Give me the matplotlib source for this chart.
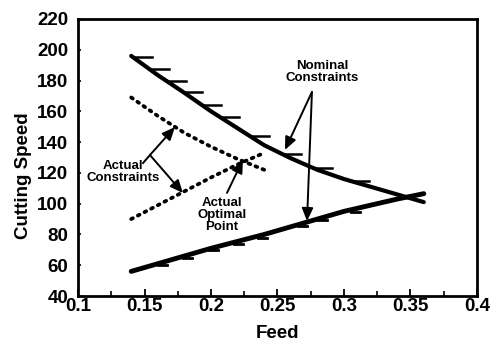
import numpy as np
import matplotlib
matplotlib.use('Agg')
from matplotlib import pyplot as plt

plt.rcParams['font.family'] = ['Liberation Sans', 'DejaVu Sans']
plt.rcParams['font.weight'] = 'bold'

# nominal constraints
nom_up_feed = [0.14, 0.16, 0.18, 0.20, 0.22, 0.24, 0.26, 0.28, 0.30, 0.32, 0.34, 0.36]
nom_up_speed = [196, 183.5, 172, 160, 149, 138, 129.5, 122, 116, 111, 106, 101]
nom_lo_feed = [0.14, 0.16, 0.18, 0.20, 0.22, 0.24, 0.26, 0.28, 0.30, 0.32, 0.34, 0.36]
nom_lo_speed = [56, 61, 66, 71, 75.5, 80, 85, 90, 95, 99, 103, 106.5]

# actual constraints (dotted)
act_up_feed = [0.14, 0.16, 0.18, 0.20, 0.22, 0.24]
act_up_speed = [169, 157, 146, 137, 129, 122]
act_lo_feed = [0.14, 0.16, 0.18, 0.20, 0.22, 0.24]
act_lo_speed = [90, 99, 108, 117, 125.5, 133]

# hatch positions along the nominal curves
up_hatch = [0.1414, 0.1541, 0.1669, 0.1789, 0.1932, 0.2068, 0.2293, 0.2534, 0.2767, 0.3045]
lo_hatch = [0.1669, 0.1857, 0.2053, 0.2241, 0.2421, 0.2722, 0.2872, 0.3120]

fig = plt.figure(figsize=(4.95, 3.44), dpi=100)
ax = fig.add_axes([0.1576, 0.1395, 0.806, 0.8053])

ax.plot(nom_up_feed, nom_up_speed, color='k', lw=3, solid_capstyle='round')
ax.plot(nom_lo_feed, nom_lo_speed, color='k', lw=3.5, solid_capstyle='round')
ax.plot(act_up_feed, act_up_speed, color='k', lw=2.7, linestyle=(0, (0.5, 1.5)),
        dash_capstyle='round')
ax.plot(act_lo_feed, act_lo_speed, color='k', lw=2.7, linestyle=(0, (0.5, 1.5)),
        dash_capstyle='round')

for f in up_hatch:
    s = np.interp(f, nom_up_feed, nom_up_speed)
    ax.plot([f, f + 0.014], [s, s], color='k', lw=1.8)
for f in lo_hatch:
    s = np.interp(f, nom_lo_feed, nom_lo_speed) - 2.6
    ax.plot([f - 0.007, f], [s, s], color='k', lw=2)

aprops = dict(arrowstyle='-|>,head_length=0.55,head_width=0.24', lw=1.4, color='k',
              mutation_scale=14, shrinkA=0, shrinkB=0)

# Nominal constraints
ax.text(0.2835, 185.6, 'Nominal\nConstraints', ha='center', va='center',
        fontsize=9.5, fontweight='bold', linespacing=1.0)
ax.annotate('', xy=(0.2556, 134.9), xytext=(0.2759, 172.6), arrowprops=aprops)
ax.annotate('', xy=(0.2722, 88.7), xytext=(0.2759, 172.6), arrowprops=aprops)

# Actual constraints
ax.text(0.1338, 120.6, 'Actual\nConstraints', ha='center', va='center',
        fontsize=9.5, fontweight='bold', linespacing=1.0)
ax.plot([0.1489, 0.1541], [126.4, 131.6], color='k', lw=1.4)
ax.annotate('', xy=(0.1729, 149.8), xytext=(0.1541, 131.6), arrowprops=aprops)
ax.annotate('', xy=(0.1789, 106.9), xytext=(0.1541, 131.6), arrowprops=aprops)

# Actual optimal point
ax.text(0.2083, 92.6, 'Actual\nOptimal\nPoint', ha='center', va='center',
        fontsize=9.5, fontweight='bold', linespacing=1.0)
ax.annotate('', xy=(0.224, 128.4), xytext=(0.212, 107), arrowprops=aprops)

ax.set_xlim(0.1, 0.4)
ax.set_ylim(40, 220)
ax.set_xticks([0.1, 0.15, 0.2, 0.25, 0.3, 0.35, 0.4])
ax.set_xticklabels(['0.1', '0.15', '0.2', '0.25', '0.3', '0.35', '0.4'])
ax.set_xticks(np.arange(0.125, 0.4, 0.05), minor=True)
ax.set_yticks(range(40, 221, 20))
ax.tick_params(axis='x', which='major', direction='in', length=5, width=1.3,
               labelsize=13.5, pad=1.5)
ax.tick_params(axis='x', which='minor', direction='in', length=3.5, width=1.2)
ax.tick_params(axis='y', direction='in', length=2.5, width=1.2, labelsize=13.5, pad=7)
for t in ax.get_xticklabels() + ax.get_yticklabels():
    t.set_fontweight('bold')
for sp in ax.spines.values():
    sp.set_linewidth(2)

ax.set_xlabel('Feed', fontsize=13.5, fontweight='bold')
ax.set_ylabel('Cutting Speed', fontsize=13.5, fontweight='bold')
ax.xaxis.set_label_coords(0.5, -0.105)
ax.yaxis.set_label_coords(-0.115, 0.433)

fig.savefig('out.png', dpi=100)
